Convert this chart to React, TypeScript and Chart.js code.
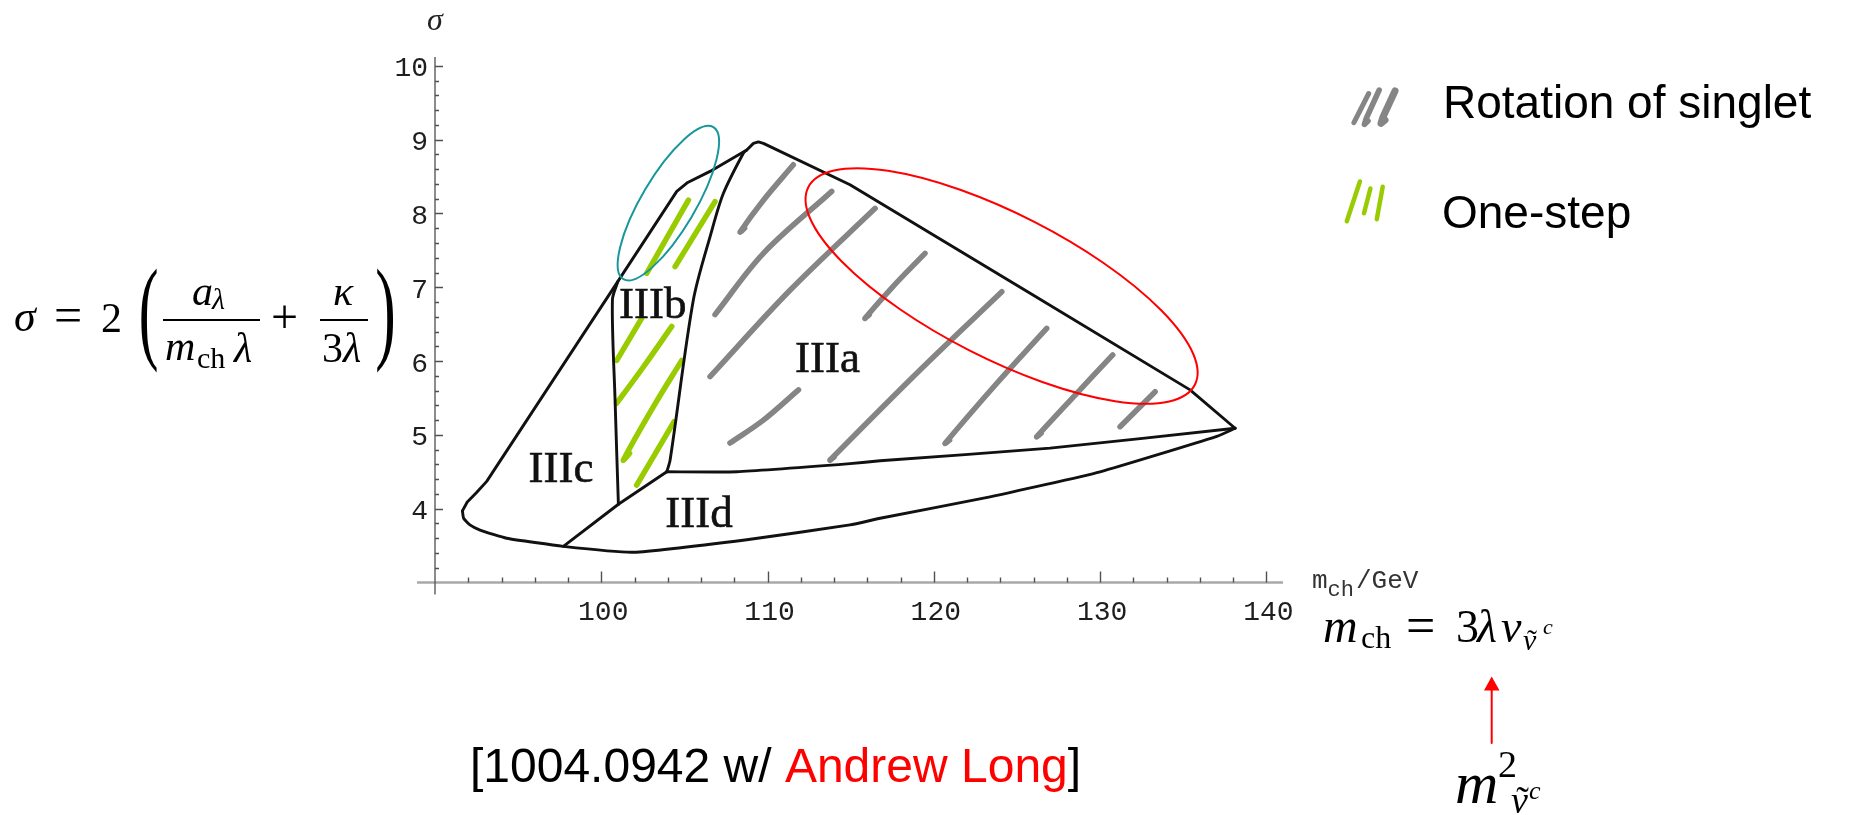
import React, { useEffect, useRef } from "react";
import { Chart, registerables } from "chart.js";

Chart.register(...registerables);

type Pt = [number, number];

// ---------------- data (x = m_ch / GeV, y = sigma) ----------------
const outerUpperEdge: Pt[] = [
  [91.65, 3.97], [91.94, 4.09], [92.5, 4.22], [93.11, 4.37], [101.0, 7.08],
  [104.54, 8.3], [105.2, 8.42], [106.54, 8.57], [108.75, 8.86], [109.15, 8.95],
  [109.45, 8.97], [109.75, 8.95], [114.96, 8.39], [125.79, 6.92], [135.41, 5.61],
  [138.12, 5.09],
];
const outerLowerEdge: Pt[] = [
  [91.65, 3.97], [91.72, 3.87], [92.1, 3.78], [92.71, 3.71], [94.31, 3.6],
  [97.72, 3.49], [101.93, 3.41], [108.75, 3.58], [114.96, 3.78], [116.77, 3.87],
  [123.38, 4.16], [130.0, 4.5], [137.02, 4.98], [138.12, 5.09],
];
const iiiaLowerEdge: Pt[] = [
  [103.94, 4.5], [108.15, 4.5], [114.96, 4.61], [116.77, 4.65], [126.99, 4.82], [138.12, 5.09],
];
const iiicRightEdge: Pt[] = [[97.72, 3.49], [101.03, 4.06]];
const iiibLowerEdge: Pt[] = [[101.03, 4.06], [103.94, 4.5]];
const iiibLeftEdge: Pt[] = [[101.03, 4.06], [100.83, 5.47], [100.67, 6.83], [101.0, 7.08]];
const iiibRightEdge: Pt[] = [
  [103.94, 4.5], [104.14, 4.66], [105.54, 6.83], [106.6, 7.73], [107.34, 8.27], [108.55, 8.82], [108.75, 8.86],
];

// hand-drawn hatching: "Rotation of singlet" (grey)
const singletStrokes: Pt[][] = [
  [[108.62, 7.8], [108.35, 7.75], [109.75, 8.18], [111.55, 8.66]],
  [[106.84, 6.63], [109.75, 7.46], [113.86, 8.3]],
  [[106.54, 5.79], [111.35, 6.96], [116.47, 8.07]],
  [[116.12, 6.63], [115.86, 6.58], [117.5, 7.0], [119.47, 7.46]],
  [[107.74, 4.89], [109.75, 5.2], [111.86, 5.61]],
  [[114.0, 4.7], [113.76, 4.66], [119.17, 5.88], [124.09, 6.94]],
  [[120.95, 4.93], [120.68, 4.886], [123.79, 5.7], [126.79, 6.444]],
  [[126.45, 5.02], [126.19, 4.976], [128.5, 5.54], [130.76, 6.083]],
  [[131.2, 5.111], [133.31, 5.585]],
];
// hand-drawn hatching: "One-step" (green)
const oneStepStrokes: Pt[][] = [
  [[102.73, 7.19], [105.24, 8.18]],
  [[104.44, 7.28], [106.84, 8.16]],
  [[100.93, 6.01], [102.43, 6.58]],
  [[101.35, 5.56], [100.93, 5.43], [102.53, 5.92], [104.24, 6.47]],
  [[101.7, 4.75], [101.33, 4.66], [103.13, 5.38], [104.84, 6.01]],
  [[102.13, 4.32], [104.38, 5.18]],
];

const regionLabels = ["IIIa", "IIIb", "IIIc", "IIId"];
const regionLabelX = [113.61, 103.1, 97.58, 105.88];
const regionLabelY = [5.852, 6.58, 4.362, 3.756];

// ellipses given by the two ends of their major axis (data coords)
const ellipseEndA: Pt[] = [[101.33, 7.11], [112.45, 8.356]];
const ellipseEndB: Pt[] = [[106.74, 9.17], [135.7, 5.679]];

const xTickValues = [100, 110, 120, 130, 140];
const xTickLabels = ["100", "110", "120", "130", "140"];
const yTickValues = [4, 5, 6, 7, 8, 9, 10];
const yTickLabels = ["4", "5", "6", "7", "8", "9", "10"];

// ---------------- styles ----------------
const OUTLINE = "#111111";
const GREY = "#858585";
const GREEN = "#99cc00";
const ellipseColors = ["#17979a", "#ff0000"];
const ellipseMinorPx = [27, 72];
const SERIF = '"Liberation Serif", "DejaVu Serif", serif';
const SANS = '"Liberation Sans", Arial, sans-serif';
const MONO = '"Liberation Mono", "DejaVu Sans Mono", monospace';

const toXY = (pts: Pt[]) => pts.map(([x, y]) => ({ x, y }));

function txt(ctx: CanvasRenderingContext2D, s: string, x: number, y: number, font: string, color = "#000", align: CanvasTextAlign = "left") {
  ctx.font = font;
  ctx.fillStyle = color;
  ctx.textAlign = align;
  ctx.textBaseline = "alphabetic";
  ctx.fillText(s, x, y);
  return ctx.measureText(s).width;
}

function fitGlyph(ctx: CanvasRenderingContext2D, ch: string, left: number, right: number, top: number, bottom: number) {
  ctx.save();
  ctx.font = `100px ${SERIF}`;
  ctx.textAlign = "left";
  ctx.textBaseline = "alphabetic";
  const m = ctx.measureText(ch);
  const h = m.actualBoundingBoxAscent + m.actualBoundingBoxDescent;
  const w = m.actualBoundingBoxRight + m.actualBoundingBoxLeft;
  const sy = (bottom - top) / h;
  const sx = (right - left) / w;
  ctx.translate(left + m.actualBoundingBoxLeft * sx, top + m.actualBoundingBoxAscent * sy);
  ctx.scale(sx, sy);
  ctx.fillStyle = "#000";
  ctx.fillText(ch, 0, 0);
  ctx.restore();
}

function tildeChar(ctx: CanvasRenderingContext2D, base: string, x: number, y: number, size: number) {
  const w = txt(ctx, base, x, y, `italic ${size}px ${SERIF}`);
  txt(ctx, "\u02DC", x + w / 2 + size * 0.08, y, `${size}px ${SERIF}`, "#000", "center");
  return w;
}

function strokePath(ctx: CanvasRenderingContext2D, pts: number[][], color: string, width: number) {
  ctx.beginPath();
  ctx.strokeStyle = color;
  ctx.lineWidth = width;
  ctx.lineCap = "round";
  ctx.lineJoin = "round";
  pts.forEach(([x, y], i) => (i ? ctx.lineTo(x, y) : ctx.moveTo(x, y)));
  ctx.stroke();
}

const decorPlugin = {
  id: "decor",
  beforeDatasetsDraw(chart: any) {
    const ctx: CanvasRenderingContext2D = chart.ctx;
    const xs = chart.scales.x;
    const ys = chart.scales.y;
    const X = (v: number) => xs.getPixelForValue(v);
    const Y = (v: number) => ys.getPixelForValue(v);
    ctx.save();
    // x axis
    ctx.strokeStyle = "#a8a8a8";
    ctx.lineWidth = 2.5;
    ctx.beginPath();
    ctx.moveTo(X(90) - 18, Y(3));
    ctx.lineTo(X(141), Y(3));
    ctx.stroke();
    // y axis
    ctx.strokeStyle = "#5a5a5a";
    ctx.lineWidth = 1.4;
    ctx.beginPath();
    ctx.moveTo(X(90), Y(10.12));
    ctx.lineTo(X(90), Y(3) + 12);
    ctx.stroke();
    // ticks
    ctx.strokeStyle = "#505050";
    ctx.lineWidth = 1.4;
    ctx.beginPath();
    for (let v = 92; v <= 140; v += 2) {
      const major = xTickValues.includes(v);
      const px = Math.round(X(v)) + 0.5;
      ctx.moveTo(px, Y(3));
      ctx.lineTo(px, Y(3) - (major ? 11 : 5));
    }
    for (let i = 1; i <= 35; i++) {
      const v = 3 + i * 0.2;
      const major = Math.abs(v - Math.round(v)) < 1e-6;
      const py = Math.round(Y(v)) + 0.5;
      ctx.moveTo(X(90), py);
      ctx.lineTo(X(90) + (major ? 8 : 4), py);
    }
    ctx.stroke();
    // tick labels
    xTickValues.forEach((v, i) => txt(ctx, xTickLabels[i], X(v) + 2, Y(3) + 37.5, `28px ${MONO}`, "#1e1e1e", "center"));
    yTickValues.forEach((v, i) => txt(ctx, yTickLabels[i], X(90) - 7, Y(v) + 10.5, `28px ${MONO}`, "#1e1e1e", "right"));
    // axis titles
    txt(ctx, "\u03C3", X(90), 30, `italic 32px ${SERIF}`, "#222", "center");
    let ax = 1312;
    ax += txt(ctx, "m", ax, 588, `26px ${MONO}`, "#333");
    ax += txt(ctx, "ch", ax, 596, `22px ${MONO}`, "#333");
    txt(ctx, "/GeV", ax + 2, 588, `26px ${MONO}`, "#333");
    ctx.restore();
  },
  afterDatasetsDraw(chart: any) {
    const ctx: CanvasRenderingContext2D = chart.ctx;
    const xs = chart.scales.x;
    const ys = chart.scales.y;
    const X = (v: number) => xs.getPixelForValue(v);
    const Y = (v: number) => ys.getPixelForValue(v);
    ctx.save();
    // region labels
    regionLabels.forEach((s, i) => {
      txt(ctx, s, X(regionLabelX[i]), Y(regionLabelY[i]), `45px ${SERIF}`, "#111", "center");
      ctx.strokeStyle = "#111";
      ctx.lineWidth = 0.6;
      ctx.strokeText(s, X(regionLabelX[i]), Y(regionLabelY[i]));
    });
    // ellipses
    ellipseEndA.forEach((a, i) => {
      const b = ellipseEndB[i];
      const ax1 = X(a[0]), ay1 = Y(a[1]), bx1 = X(b[0]), by1 = Y(b[1]);
      ctx.beginPath();
      ctx.strokeStyle = ellipseColors[i];
      ctx.lineWidth = 2;
      ctx.ellipse((ax1 + bx1) / 2, (ay1 + by1) / 2, Math.hypot(bx1 - ax1, by1 - ay1) / 2, ellipseMinorPx[i], Math.atan2(by1 - ay1, bx1 - ax1), 0, Math.PI * 2);
      ctx.stroke();
    });

    // legend
    strokePath(ctx, [[1368.7, 93.5], [1353.9, 122.7]], GREY, 5);
    strokePath(ctx, [[1379.2, 90], [1366, 119], [1364.4, 124.4], [1368, 121]], GREY, 5.5);
    strokePath(ctx, [[1395, 91], [1383, 117], [1381, 123.4], [1385, 120]], GREY, 7);
    strokePath(ctx, [[1359.9, 181.5], [1346.8, 221.3]], GREEN, 4.5);
    strokePath(ctx, [[1370.4, 188.5], [1364, 213.2]], GREEN, 4.5);
    strokePath(ctx, [[1382.7, 186.8], [1376.8, 219.2]], GREEN, 4.5);
    txt(ctx, "Rotation of singlet", 1443, 118, `46px ${SANS}`);
    txt(ctx, "One-step", 1442, 228, `46px ${SANS}`);

    // left formula: sigma = 2 ( a_lambda / (m_ch lambda) + kappa / (3 lambda) )
    txt(ctx, "\u03C3", 14, 331, `italic 44px ${SERIF}`);
    txt(ctx, "=", 54, 332, `50px ${SERIF}`);
    txt(ctx, "2", 101, 332, `42px ${SERIF}`);
    fitGlyph(ctx, "(", 141, 157, 268, 373);
    txt(ctx, "a", 192, 305, `italic 42px ${SERIF}`);
    txt(ctx, "\u03BB", 212, 309, `italic 30px ${SERIF}`);
    ctx.fillStyle = "#000";
    ctx.fillRect(163, 319, 97, 2);
    txt(ctx, "m", 165, 360, `italic 42px ${SERIF}`);
    txt(ctx, "ch", 197, 368, `30px ${SERIF}`);
    txt(ctx, "\u03BB", 234, 362, `italic 42px ${SERIF}`);
    txt(ctx, "+", 271, 333, `48px ${SERIF}`);
    txt(ctx, "\u03BA", 333, 305, `italic 42px ${SERIF}`);
    ctx.fillStyle = "#000";
    ctx.fillRect(320, 319, 48, 2);
    txt(ctx, "3", 322, 362, `42px ${SERIF}`);
    txt(ctx, "\u03BB", 343, 362, `italic 42px ${SERIF}`);
    fitGlyph(ctx, ")", 377, 393, 268, 373);

    // right formula: m_ch = 3 lambda v_{nu~^c}
    txt(ctx, "m", 1323, 642, `italic 48px ${SERIF}`);
    txt(ctx, "ch", 1361, 648, `32px ${SERIF}`);
    txt(ctx, "=", 1406, 643, `52px ${SERIF}`);
    txt(ctx, "3", 1456, 642, `46px ${SERIF}`);
    txt(ctx, "\u03BB", 1477, 642, `italic 46px ${SERIF}`);
    txt(ctx, "v", 1501, 642, `italic 46px ${SERIF}`);
    tildeChar(ctx, "\u03BD", 1523, 650, 30);
    txt(ctx, "c", 1543, 634, `italic 22px ${SERIF}`);

    // red arrow
    ctx.strokeStyle = "#ff0000";
    ctx.lineWidth = 2;
    ctx.beginPath();
    ctx.moveTo(1491.7, 743);
    ctx.lineTo(1491.7, 688);
    ctx.stroke();
    ctx.fillStyle = "#ff0000";
    ctx.beginPath();
    ctx.moveTo(1491.7, 676.5);
    ctx.lineTo(1499.5, 690.5);
    ctx.lineTo(1484, 690.5);
    ctx.closePath();
    ctx.fill();

    // bottom formula: m^2_{nu~^c}
    txt(ctx, "m", 1455, 803, `italic 60px ${SERIF}`);
    txt(ctx, "2", 1498, 777, `38px ${SERIF}`);
    tildeChar(ctx, "\u03BD", 1511, 813, 38);
    txt(ctx, "c", 1529, 799, `italic 26px ${SERIF}`);

    // citation
    let cx = 470;
    cx += txt(ctx, "[1004.0942 w/ ", cx, 782, `48px ${SANS}`, "#000");
    cx += txt(ctx, "Andrew Long", cx, 782, `48px ${SANS}`, "#ff0000");
    txt(ctx, "]", cx, 782, `48px ${SANS}`, "#000");
    ctx.restore();
  },
};

export default function App() {
  const ref = useRef<HTMLCanvasElement | null>(null);
  useEffect(() => {
    document.body.style.margin = "0";
    const canvas = ref.current;
    if (!canvas) return;
    const outline = (pts: Pt[], tension = 0) => ({
      data: toXY(pts),
      showLine: true,
      borderColor: OUTLINE,
      borderWidth: 2.9,
      pointRadius: 0,
      tension,
      fill: false,
      borderJoinStyle: "round" as const,
      borderCapStyle: "round" as const,
    });
    const hatch = (pts: Pt[], color: string) => ({
      data: toXY(pts),
      showLine: true,
      borderColor: color,
      borderWidth: 5.5,
      pointRadius: 0,
      tension: 0.35,
      fill: false,
      borderJoinStyle: "round" as const,
      borderCapStyle: "round" as const,
    });
    const datasets: any[] = [
      outline(outerUpperEdge),
      outline(outerLowerEdge, 0.15),
      outline(iiiaLowerEdge, 0.15),
      outline(iiicRightEdge),
      outline(iiibLowerEdge),
      outline(iiibLeftEdge, 0.3),
      outline(iiibRightEdge, 0.3),
      ...singletStrokes.map((s) => hatch(s, GREY)),
      ...oneStepStrokes.map((s) => hatch(s, GREEN)),
    ];
    const chart = new Chart(canvas, {
      type: "scatter",
      data: { datasets },
      options: {
        responsive: false,
        animation: false,
        devicePixelRatio: 1,
        events: [],
        layout: { padding: { left: 435, right: 569, top: 58.5, bottom: 232.5 } },
        scales: {
          x: { type: "linear", min: 90, max: 141, display: false },
          y: { type: "linear", min: 3, max: 10.1, display: false },
        },
        plugins: { legend: { display: false }, tooltip: { enabled: false } },
        datasets: { scatter: { clip: false } as any },
      } as any,
      plugins: [decorPlugin],
    });
    return () => chart.destroy();
  }, []);
  return (
    <div style={{ width: 1852, height: 815, background: "#fff" }}>
      <canvas ref={ref} width={1852} height={815} style={{ display: "block" }} />
    </div>
  );
}
